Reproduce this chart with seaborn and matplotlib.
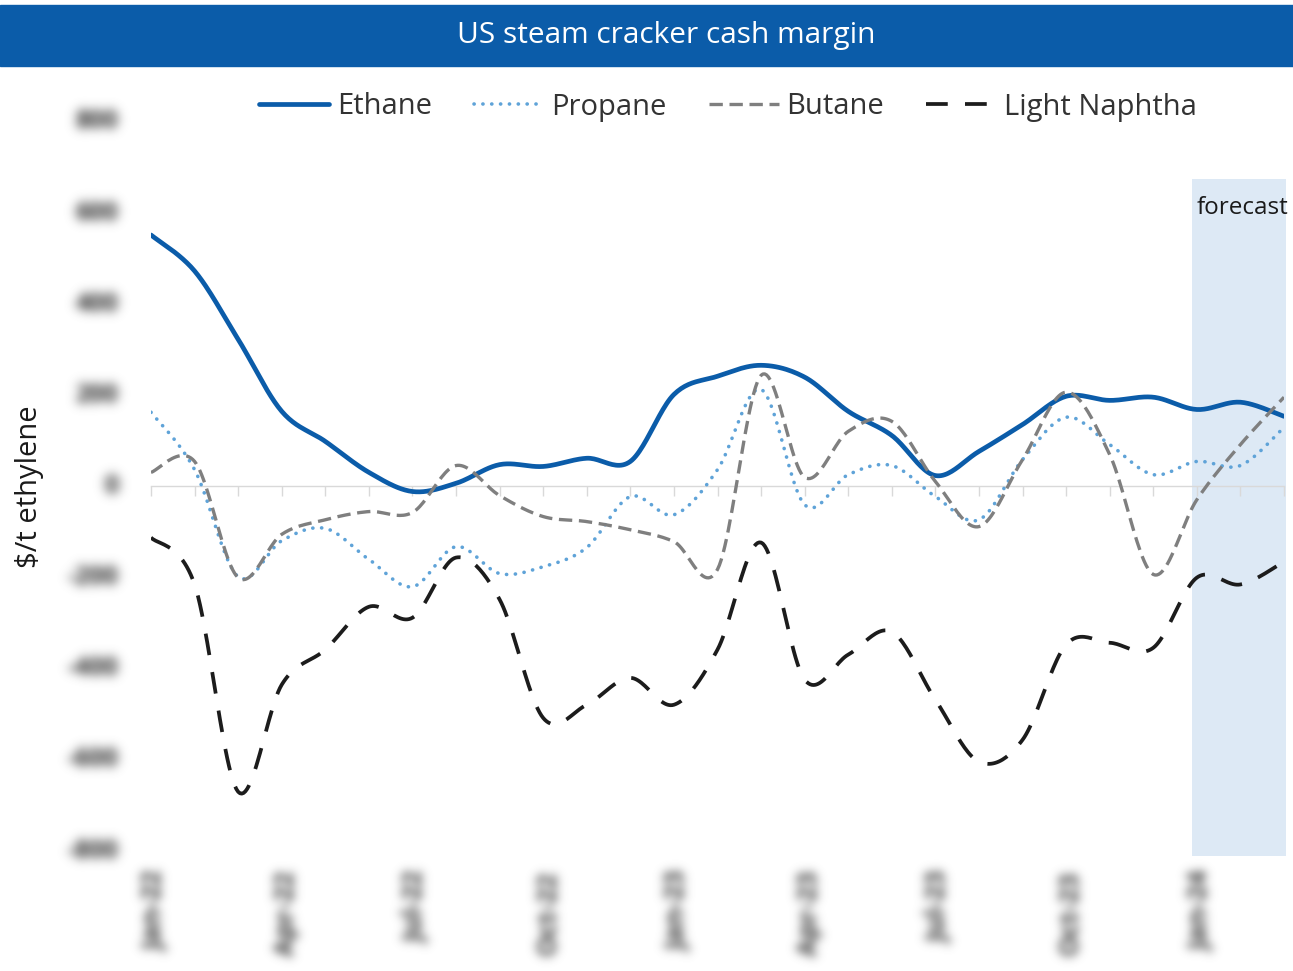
import numpy as np
import pandas as pd
import matplotlib
matplotlib.use("Agg")
import matplotlib.pyplot as plt
import matplotlib.transforms as mtransforms
import seaborn as sns

# ---- data ($/t ethylene, monthly) ----
months = ["Jan-22", "Feb-22", "Mar-22", "Apr-22", "May-22", "Jun-22", "Jul-22", "Aug-22", "Sep-22",
          "Oct-22", "Nov-22", "Dec-22", "Jan-23", "Feb-23", "Mar-23", "Apr-23", "May-23", "Jun-23",
          "Jul-23", "Aug-23", "Sep-23", "Oct-23", "Nov-23", "Dec-23", "Jan-24", "Feb-24", "Mar-24"]
ethane = [552, 473, 323, 165, 99, 31, -11, 7, 48, 44, 62, 55, 202, 242, 266, 240, 165, 112,
          24, 77, 136, 198, 189, 196, 169, 185, 154]
propane = [163, 37, -198, -119, -92, -160, -220, -132, -191, -176, -134, -22, -62, 37, 213, -40,
           26, 46, -22, -73, 59, 152, 92, 26, 55, 46, 130]
butane = [31, 55, -200, -105, -73, -55, -57, 46, -20, -66, -77, -95, -121, -182, 244, 20, 121,
          143, 11, -88, 59, 207, 70, -193, -29, 92, 196]
naphtha = [-112, -215, -670, -435, -358, -264, -288, -156, -248, -508, -479, -420, -479, -358,
           -123, -424, -369, -319, -468, -604, -556, -347, -343, -354, -200, -215, -165]
series_names = ["Ethane", "Propane", "Butane", "Light Naphtha"]
y_ticks = [800, 600, 400, 200, 0, -200, -400, -600, -800]
label_every = 3
forecast_from = "Jan-24"


def smooth_curve(values, steps=24):
    """Bezier smoothing through every point (spreadsheet-style smoothed line)."""
    p = np.asarray(values, dtype=float)
    x = np.arange(len(p), dtype=float)
    pts = np.column_stack([x, p])
    ext = np.vstack([pts[0], pts, pts[-1]])
    out = []
    t = np.linspace(0, 1, steps, endpoint=False)[:, None]
    for i in range(len(pts) - 1):
        p0, p3 = ext[i + 1], ext[i + 2]
        c1 = p0 + (ext[i + 2] - ext[i]) / 6.0
        c2 = p3 - (ext[i + 3] - ext[i + 1]) / 6.0
        seg = ((1 - t) ** 3) * p0 + 3 * ((1 - t) ** 2) * t * c1 + 3 * (1 - t) * t ** 2 * c2 + t ** 3 * p3
        out.append(seg)
    out.append(pts[-1][None, :])
    arr = np.vstack(out)
    return arr[:, 0], arr[:, 1]


class GaussianBlur:
    """agg_filter that blurs an artist's rendered pixels."""
    def __init__(self, sigma_px, color, gain=1.0):
        self.sigma = sigma_px
        self.color = matplotlib.colors.to_rgb(color)
        self.gain = gain

    def __call__(self, im, dpi):
        pad = int(3 * self.sigma) + 2
        padded = np.pad(im, [(pad, pad), (pad, pad), (0, 0)], mode="constant")
        r = int(3 * self.sigma)
        k = np.exp(-0.5 * (np.arange(-r, r + 1) / self.sigma) ** 2)
        k /= k.sum()
        a = padded[:, :, 3]
        a = np.apply_along_axis(lambda v: np.convolve(v, k, mode="same"), 0, a)
        a = np.apply_along_axis(lambda v: np.convolve(v, k, mode="same"), 1, a)
        out = np.zeros_like(padded)
        out[:, :, 0], out[:, :, 1], out[:, :, 2] = self.color
        out[:, :, 3] = np.clip(a * self.gain, 0, 1)
        return out, -pad, -pad


sns.set_theme(style="white")
plt.rcParams["font.family"] = ["Open Sans", "DejaVu Sans"]

W, H = 1293, 971
fig = plt.figure(figsize=(W / 100, H / 100), dpi=100)
fig.patch.set_facecolor("white")

# title banner
banner_blue = "#0b5ca9"
fig.patches.append(matplotlib.patches.Rectangle((0, 1 - 66 / H), 1, 61 / H, transform=fig.transFigure,
                                                color=banner_blue, zorder=0))
fig.text(0.515, 1 - 35 / H, "US steam cracker cash margin", color="white", fontsize=21.5,
         ha="center", va="center")

ax_left, ax_right, ax_top, ax_bot = 151, 1284, 122, 851
ax = fig.add_axes([ax_left / W, 1 - ax_bot / H, (ax_right - ax_left) / W, (ax_bot - ax_top) / H])
ax.set_facecolor("none")
n = len(months)
ax.set_xlim(0, n - 1)
ax.set_ylim(-800, 800)

# forecast shading
f0 = months.index(forecast_from)
ax.fill_between([f0 - 0.1, n - 1 + 0.05], -810, 675, color="#dde9f5", lw=0, zorder=0, clip_on=False)
ax.text(n - 2 + 0.05, 612, "forecast", fontsize=17.5, color="#1a1a1a", ha="center", va="center",
        clip_on=False)

# smoothed series drawn through seaborn
styles = {
    "Ethane": dict(color="#0b5ca9", lw=3.4, linestyle="-", solid_capstyle="round"),
    "Propane": dict(color="#5fa3d8", lw=2.6, linestyle=(0, (0.05, 2.4)), dash_capstyle="round"),
    "Butane": dict(color="#7f7f7f", lw=2.4, linestyle=(0, (4.0, 2.0))),
    "Light Naphtha": dict(color="#1c1c1c", lw=2.7, linestyle=(0, (5.8, 4.6))),
}
for name, vals in zip(series_names, [ethane, propane, butane, naphtha]):
    xs, ys = smooth_curve(vals)
    df = pd.DataFrame({"x": xs, "y": ys})
    sns.lineplot(data=df, x="x", y="y", ax=ax, estimator=None, sort=False, label=name,
                 zorder=3, **styles[name])

# zero axis with category ticks
for s in ["left", "right", "top"]:
    ax.spines[s].set_visible(False)
ax.spines["bottom"].set_position(("data", 0))
ax.spines["bottom"].set_color("#d9d9d9")
ax.spines["bottom"].set_linewidth(1.0)
ax.spines["bottom"].set_zorder(1)
ax.set_xticks(range(n))
ax.tick_params(axis="x", direction="out", length=7, width=1, color="#d9d9d9", labelbottom=False,
               bottom=True)
ax.set_yticks([])
ax.set_xlabel("")
ax.set_ylabel("")
ax.grid(False)

# axis labels (soft/blurred)
ytrans = mtransforms.blended_transform_factory(ax.transAxes, ax.transData)
for v in y_ticks:
    t = ax.text(-0.029, v, f"{v}", transform=ytrans, ha="right", va="center", fontsize=18,
                fontweight="bold", color="#555555", clip_on=False)
    t.set_agg_filter(GaussianBlur(5.5, "#555555", gain=1.3))

xtrans = mtransforms.blended_transform_factory(ax.transData, ax.transAxes)
for i in range(0, n, label_every):
    t = ax.text(i + 0.1, -0.027, months[i], transform=xtrans, ha="center", va="top", rotation=90,
                fontsize=19, fontweight="bold", color="#555555", clip_on=False)
    t.set_agg_filter(GaussianBlur(5.0, "#555555", gain=1.2))

fig.text(30 / W, 1 - 487 / H, "$/t ethylene", rotation=90, fontsize=21, color="#1a1a1a",
         ha="center", va="center")

# legend row
ax.legend_.remove()
handles, labels = ax.get_legend_handles_labels()
fig.legend(handles, labels, loc="center", bbox_to_anchor=(0.563, 1 - 107 / H), ncol=4,
           frameon=False, fontsize=21, handlelength=2.4, columnspacing=1.45, handletextpad=0.25,
           labelcolor="#333333")

fig.savefig("out.png", dpi=100, facecolor="white")
